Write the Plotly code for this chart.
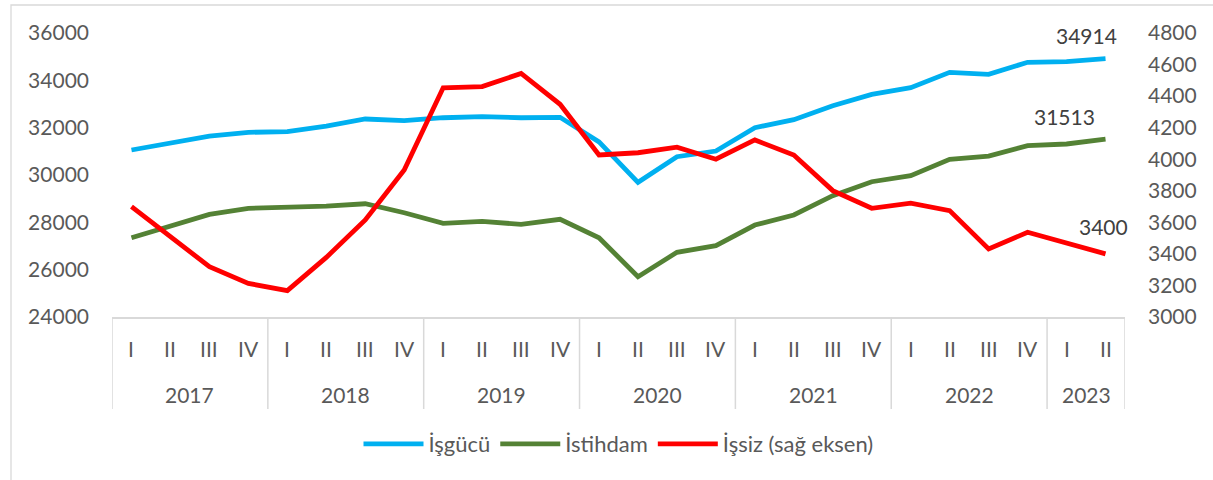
import plotly.graph_objects as go

quarter_labels = ["I", "II", "III", "IV"] * 6 + ["I", "II"]
year_labels = ["2017", "2018", "2019", "2020", "2021", "2022", "2023"]
year_sizes = [4, 4, 4, 4, 4, 4, 2]

isgucu = [31056, 31338, 31647, 31803, 31830, 32070, 32366, 32294, 32420, 32463, 32420, 32437,
          31400, 29690, 30773, 31013, 32000, 32337, 32928, 33408, 33690, 34339, 34254, 34762,
          34790, 34914]
istihdam = [27350, 27844, 28338, 28592, 28634, 28689, 28786, 28406, 27957, 28042, 27915, 28127,
            27350, 25702, 26732, 27011, 27886, 28309, 29125, 29716, 29970, 30661, 30802, 31240,
            31310, 31513]
issiz = [3699, 3513, 3319, 3213, 3167, 3378, 3615, 3932, 4453, 4460, 4544, 4348,
         4027, 4041, 4076, 4000, 4122, 4027, 3801, 3689, 3721, 3674, 3431, 3537,
         3471, 3400]

names = ["İşgücü", "İstihdam", "İşsiz (sağ eksen)"]
colors = ["#00B0F0", "#548235", "#FF0000"]

FONT = "Lato"
TXT = "#595959"
FS = 21
GRID = "#D9D9D9"

xs = list(range(len(quarter_labels)))

fig = go.Figure()
fig.add_trace(go.Scatter(x=xs, y=isgucu, name=names[0], mode="lines",
                         line=dict(color=colors[0], width=4.8)))
fig.add_trace(go.Scatter(x=xs, y=istihdam, name=names[1], mode="lines",
                         line=dict(color=colors[1], width=4.8)))
fig.add_trace(go.Scatter(x=xs, y=issiz, name=names[2], mode="lines", yaxis="y2",
                         line=dict(color=colors[2], width=4.8)))

L, R, T, B = 112, 1213 - 1125, 33, 480 - 317
ph = 317 - 33
pw = 1125 - 112


def py(pix):
    return (317 - pix) / ph


def px(pix):
    return (pix - 112) / pw


shapes = []
annotations = []

# Outer chart border (left and top)
shapes.append(dict(type="path", xref="paper", yref="paper",
                   path=f"M {px(11)} {py(481)} L {px(11)} {py(5)} L {px(1214)} {py(5)}",
                   line=dict(color=GRID, width=1.3)))

# Group separators on category axis
bounds = [-0.5]
for s in year_sizes:
    bounds.append(bounds[-1] + s)
for b in bounds:
    shapes.append(dict(type="line", xref="x", yref="paper", x0=b, x1=b, y0=0, y1=py(409),
                       line=dict(color=GRID, width=1.5)))

# Quarter labels
for i, q in enumerate(quarter_labels):
    annotations.append(dict(x=i, y=py(348), xref="x", yref="paper", text=q, showarrow=False,
                            font=dict(family=FONT, size=FS, color=TXT), xanchor="center",
                            yanchor="middle"))
# Year labels
for j, yl in enumerate(year_labels):
    c = (bounds[j] + bounds[j + 1]) / 2
    annotations.append(dict(x=c, y=py(394), xref="x", yref="paper", text=yl, showarrow=False,
                            font=dict(family=FONT, size=FS, color=TXT), xanchor="center",
                            yanchor="middle"))

# Data labels for last points
last = len(xs) - 1
annotations.append(dict(x=last, y=isgucu[-1], xref="x", yref="y", text=str(isgucu[-1]),
                        showarrow=False, font=dict(family=FONT, size=FS, color="#404040"),
                        xanchor="center", yanchor="middle", xshift=-19, yshift=23))
annotations.append(dict(x=last, y=istihdam[-1], xref="x", yref="y", text=str(istihdam[-1]),
                        showarrow=False, font=dict(family=FONT, size=FS, color="#404040"),
                        xanchor="center", yanchor="middle", xshift=-41, yshift=23))
annotations.append(dict(x=last, y=issiz[-1], xref="x", yref="y2", text=str(issiz[-1]),
                        showarrow=False, font=dict(family=FONT, size=FS, color="#404040"),
                        xanchor="center", yanchor="middle", xshift=-2, yshift=27))

fig.update_layout(
    width=1213, height=480,
    margin=dict(l=L, r=R, t=T, b=B, autoexpand=False),
    paper_bgcolor="white", plot_bgcolor="white",
    font=dict(family=FONT, size=FS, color=TXT),
    showlegend=True,
    legend=dict(orientation="h", x=0.5, xanchor="center", y=py(444), yanchor="middle",
                font=dict(family=FONT, size=22, color=TXT), itemwidth=60,
                bgcolor="rgba(0,0,0,0)", tracegroupgap=0),
    xaxis=dict(range=[-0.5, len(xs) - 0.5], showticklabels=False, showgrid=False,
               zeroline=False, showline=True, linecolor=GRID, linewidth=1.5, ticks="",
               fixedrange=True),
    yaxis=dict(range=[24000, 36000], dtick=2000, tickformat="d", showgrid=False,
               zeroline=False, showline=False, ticks="", ticklabelstandoff=22,
               tickfont=dict(family=FONT, size=FS, color=TXT)),
    yaxis2=dict(range=[3000, 4800], dtick=200, tickformat="d", overlaying="y", side="right",
                showgrid=False, zeroline=False, showline=False, ticks="",
                ticklabelstandoff=22, tickfont=dict(family=FONT, size=FS, color=TXT)),
    shapes=shapes,
    annotations=annotations,
)

fig.write_html("out.html", config={"displayModeBar": False},
               post_script="document.body.style.margin='0';document.body.style.overflow='hidden';")
